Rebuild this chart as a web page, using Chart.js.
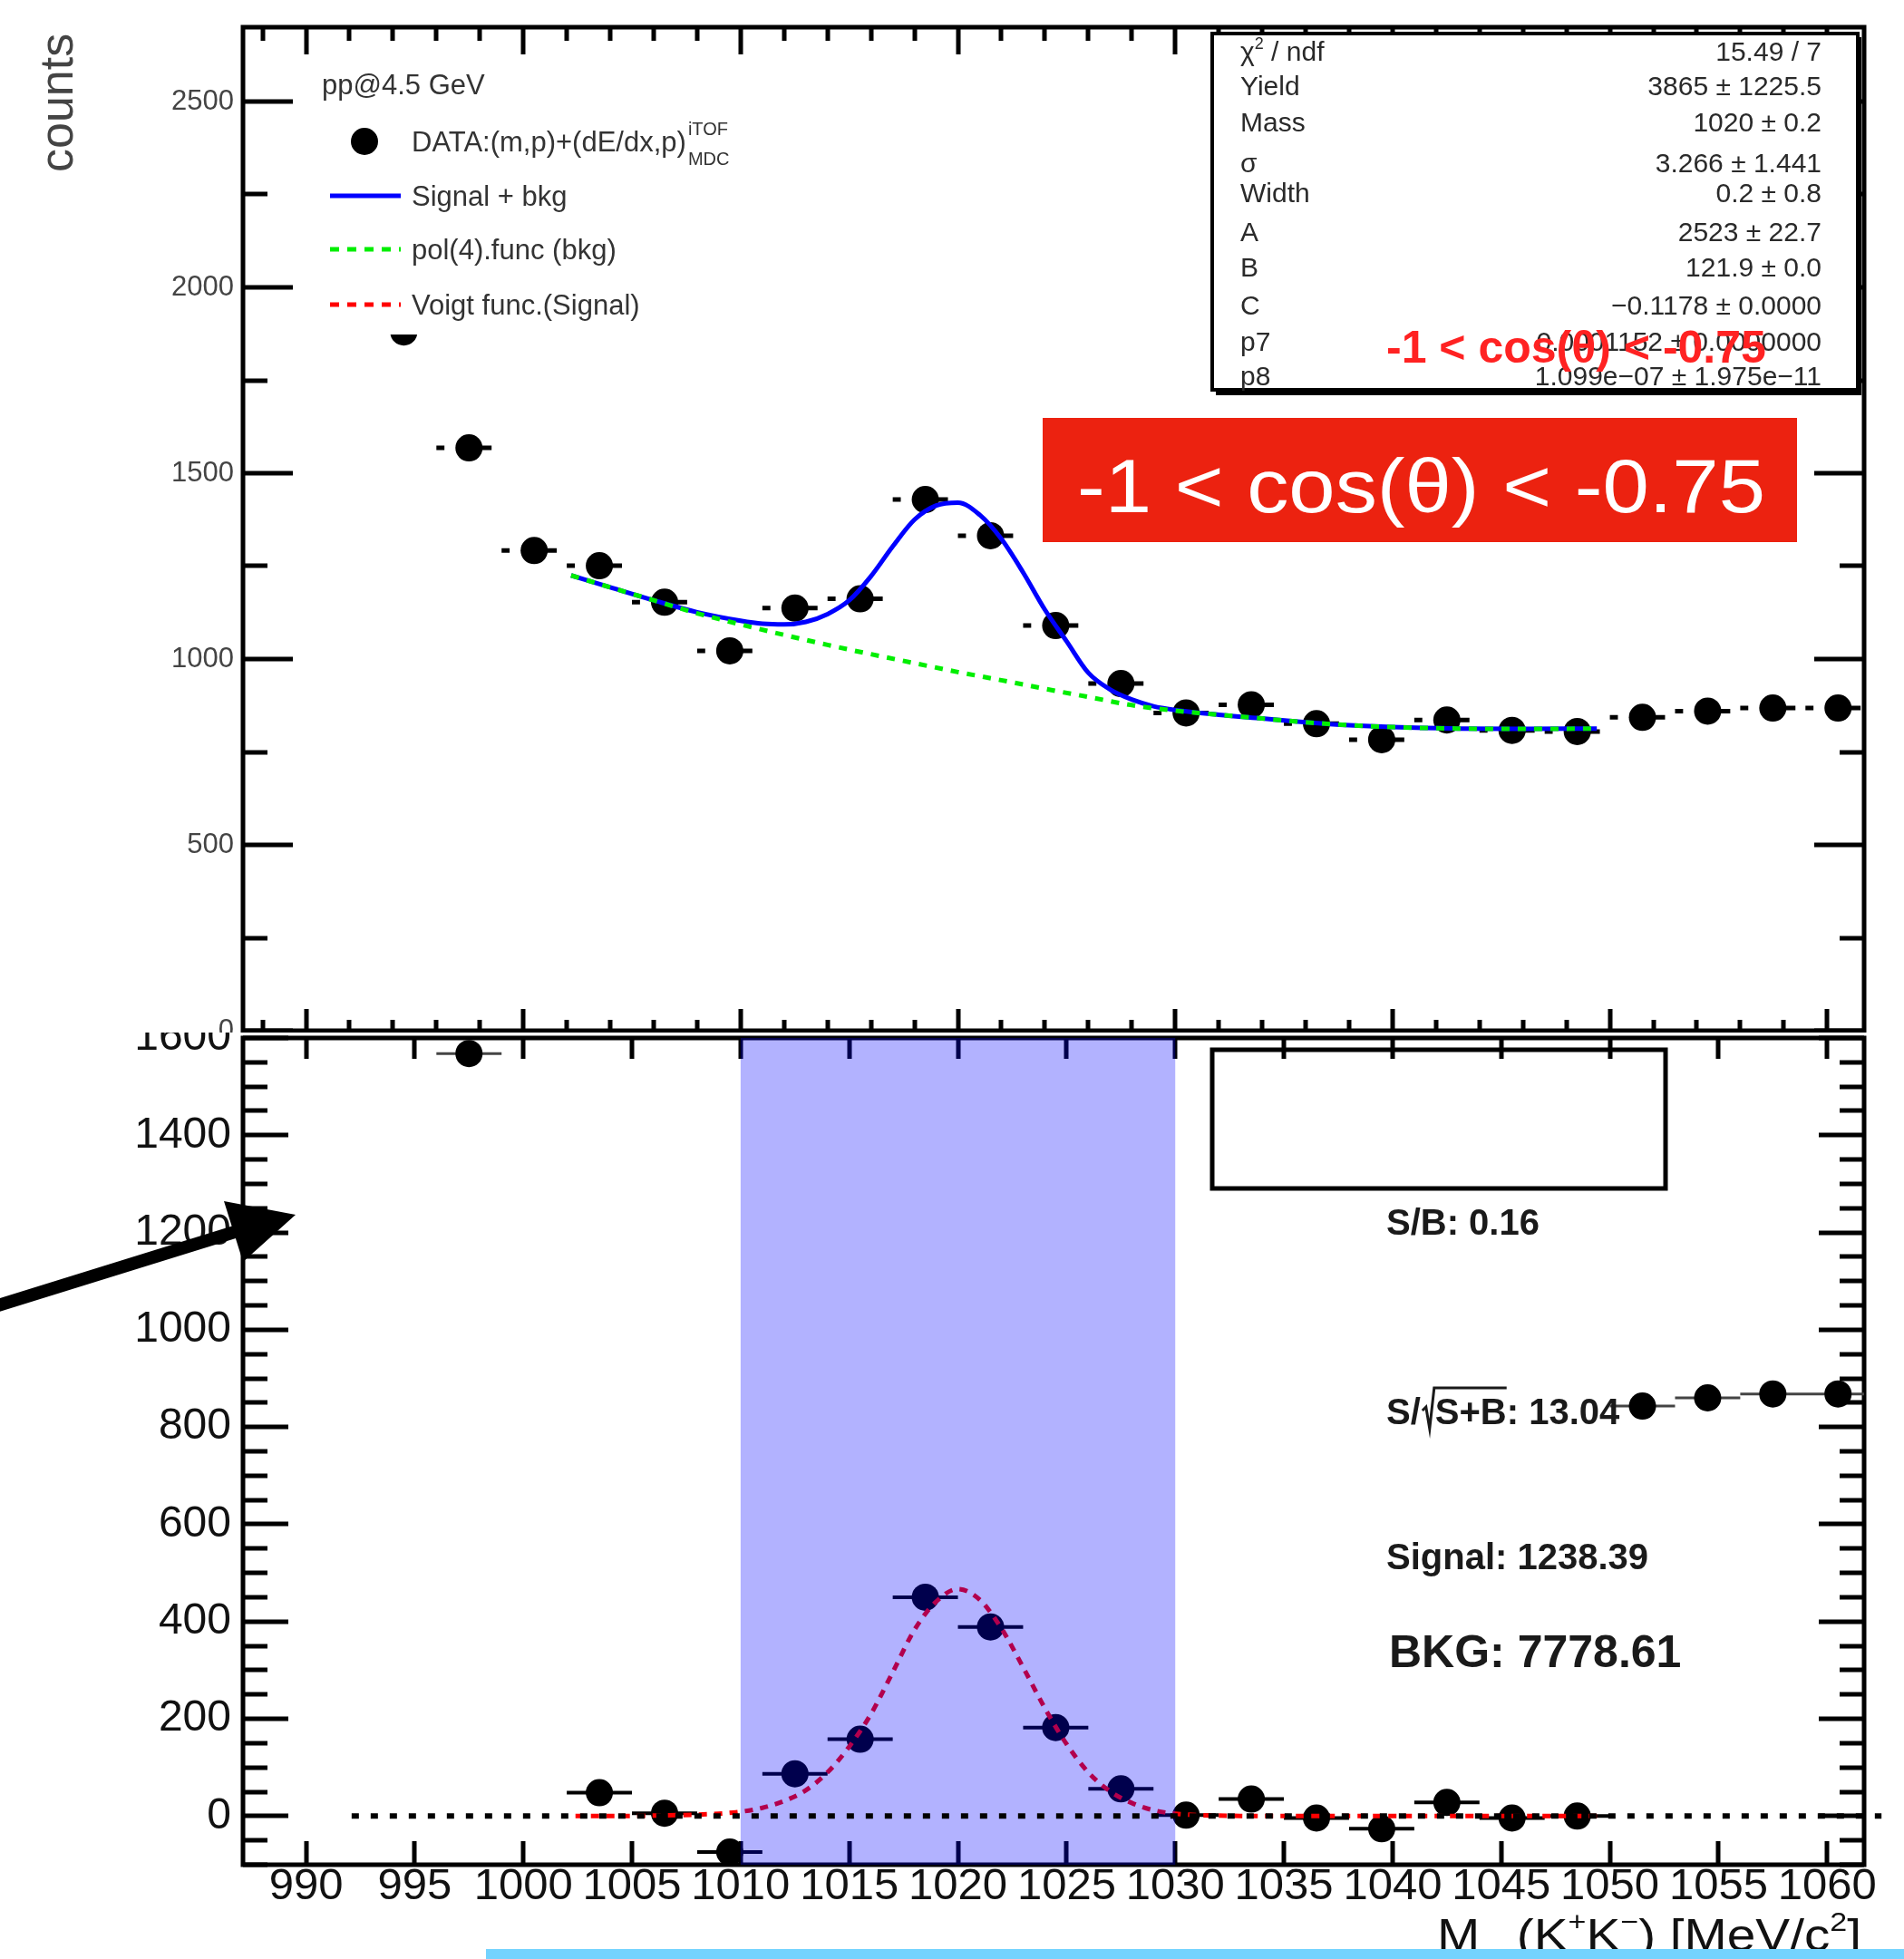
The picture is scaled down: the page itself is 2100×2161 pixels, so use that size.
<!DOCTYPE html>
<html>
<head>
<meta charset="utf-8">
<title>K+K- invariant mass</title>
<script src="https://cdn.jsdelivr.net/npm/chart.js@4.4.1/dist/chart.umd.min.js"></script>
<style>
  html, body { margin: 0; padding: 0; background: #fff; }
  body { position: relative; width: 2100px; height: 2161px; overflow: hidden; }
  #lowerPad { position: absolute; left: 0; top: 1090px; }
  #upperPad { position: absolute; left: 0; top: 0; background: #fff; }
  #strip { position: absolute; left: 536px; top: 2150px; width: 1564px; height: 11px; background: #74d3fe; }
</style>
</head>
<body>
<canvas id="lowerPad" width="2100" height="1071"></canvas>
<canvas id="upperPad" width="2100" height="1139"></canvas>
<div id="strip"></div>
<script>
const FONT = '"Liberation Sans", Arial, Helvetica, sans-serif';

// 3 MeV/c2 bins and raw K+K- pair counts
const massBins = [994.5, 997.5, 1000.5, 1003.5, 1006.5, 1009.5, 1012.5, 1015.5, 1018.5, 1021.5, 1024.5, 1027.5,
                  1030.5, 1033.5, 1036.5, 1039.5, 1042.5, 1045.5, 1048.5, 1051.5, 1054.5, 1057.5, 1060.5];
const counts = [1880, 1568, 1292, 1251, 1153, 1022, 1137, 1162, 1429, 1332, 1090, 934,
                855, 877, 826, 783, 836, 808, 805, 843, 860, 868, 868];

// background-subtracted counts inside the fit range
const fitBins = [1003.5, 1006.5, 1009.5, 1012.5, 1015.5, 1018.5, 1021.5, 1024.5,
                 1027.5, 1030.5, 1033.5, 1036.5, 1039.5, 1042.5, 1045.5, 1048.5];
const signalCounts = [48, 6, -74, 87, 158, 450, 389, 182, 56, 2, 35, -4, -26, 28, -4, 0];

// side-band bins that also show up on the lower pad
const lowerRawBins = [997.5, 1051.5, 1054.5, 1057.5, 1060.5];

// signal + bkg fit, sampled along the mass axis
const sigBkgMass = [1002.2, 1004, 1006, 1008, 1010, 1011, 1012, 1013, 1014, 1015, 1016, 1017, 1018, 1019, 1020,
                    1021, 1022, 1023, 1024, 1025, 1026, 1027, 1028, 1029, 1030, 1032, 1034, 1036, 1038, 1040,
                    1043, 1046, 1049.4];
const sigBkg = [1225, 1193, 1158, 1126, 1103, 1095, 1093, 1100, 1121, 1158, 1223, 1303, 1375, 1413, 1421,
                1388, 1323, 1233, 1133, 1048, 963, 918, 891, 873, 863, 850, 840, 830, 822, 817,
                813, 812, 813];

// pol(4) background
const bkgMass = [1002.2, 1004, 1006, 1008, 1010, 1012, 1014, 1016, 1018, 1020, 1022, 1024, 1026, 1028,
                 1030, 1032, 1034, 1036, 1038, 1040, 1043, 1046, 1049.4];
const bkg = [1225, 1193, 1158, 1123, 1093, 1065, 1038, 1013, 989, 965, 943, 920, 898, 876,
             861, 850, 840, 830, 822, 817, 813, 812, 813];

// Voigt signal
const voigtMass = [1002.4, 1004, 1006, 1008, 1009, 1010, 1011, 1012, 1013, 1014, 1015, 1016, 1017, 1018,
                   1019, 1020, 1021, 1022, 1023, 1024, 1025, 1026, 1027, 1028, 1029, 1030, 1031, 1032,
                   1034, 1040, 1049.4];
const voigt = [0, 0, 1, 3, 5, 9, 17, 31, 53, 90, 143, 210, 296, 383,
               441, 467, 445, 386, 306, 222, 148, 90, 51, 27, 12, 5, 2, 1,
               0, 0, 0];

// integration window and zero reference
const windowLo = 1010, windowHi = 1030;
const zeroMass = [992.1, 1062.5];
const zeroLevel = [0, 0];

// tick labels
const upperYTicks = [0, 500, 1000, 1500, 2000, 2500];
const lowerYTicks = [0, 200, 400, 600, 800, 1000, 1200, 1400, 1600];
const lowerXTicks = [990, 995, 1000, 1005, 1010, 1015, 1020, 1025, 1030, 1035, 1040, 1045, 1050, 1055, 1060];

// fit result table
const statNames = ['χ2 / ndf', 'Yield', 'Mass', 'σ', 'Width', 'A', 'B', 'C', 'p7', 'p8'];
const statValues = ['15.49 / 7', '3865 ± 1225.5', '1020 ± 0.2', '3.266 ± 1.441', '0.2 ± 0.8', '2523 ± 22.7',
                    '121.9 ± 0.0', '−0.1178 ± 0.0000', '0.0001152 ± 0.0000000', '1.099e−07 ± 1.975e−11'];

const X_MIN = 987.1, X_MAX = 1061.7;

const pts = (xs, ys) => xs.map((m, i) => ({x: m, y: ys[i]}));

function eachStep(min, max, step, fn) {
  for (let k = Math.ceil(min / step - 1e-9); k * step <= max + 1e-9; k++) fn(k * step);
}
const isMultiple = (v, s) => Math.abs(Math.round(v / s) * s - v) < 1e-6;

// frame with inward ticks on all four sides
function drawFrame(chart, f) {
  const {ctx, chartArea: a, scales: {x, y}} = chart;
  ctx.save();
  ctx.strokeStyle = '#000';
  ctx.lineWidth = f.tickWidth;
  ctx.beginPath();
  eachStep(y.min, y.max, f.yMinor, v => {
    const p = Math.round(y.getPixelForValue(v));
    const len = isMultiple(v, f.yMajor) ? f.yMajorLen : f.yMinorLen;
    ctx.moveTo(a.left, p); ctx.lineTo(a.left + len, p);
    ctx.moveTo(a.right, p); ctx.lineTo(a.right - len, p);
  });
  eachStep(x.min, x.max, f.xMinor, v => {
    const p = Math.round(x.getPixelForValue(v));
    const major = isMultiple(v, f.xMajor);
    ctx.moveTo(p, a.bottom); ctx.lineTo(p, a.bottom - (major ? f.xMajorLen : f.xMinorLen));
    ctx.moveTo(p, a.top); ctx.lineTo(p, a.top + (major ? f.xTopMajorLen : f.xTopMinorLen));
  });
  ctx.stroke();
  ctx.lineWidth = f.frameWidth;
  ctx.strokeRect(a.left, a.top, a.right - a.left, a.bottom - a.top);
  ctx.restore();
}

// text made of pieces: [text, size, dy, weight]
function richText(ctx, parts, x, y, align) {
  let w = 0;
  parts.forEach(p => { ctx.font = `${p[3] || 'normal'} ${p[1]}px ${FONT}`; w += ctx.measureText(p[0]).width; });
  let cx = align === 'right' ? x - w : x;
  ctx.textAlign = 'left';
  ctx.textBaseline = 'alphabetic';
  parts.forEach(p => {
    ctx.font = `${p[3] || 'normal'} ${p[1]}px ${FONT}`;
    ctx.fillText(p[0], cx, y + p[2]);
    cx += ctx.measureText(p[0]).width;
  });
  return w;
}

// horizontal bin-width error bars
const errorBars = {
  id: 'errorBars',
  beforeDatasetsDraw(chart) {
    const {ctx, chartArea: a, scales: {x, y}} = chart;
    chart.data.datasets.forEach(ds => {
      if (!ds.xErr) return;
      ctx.save();
      ctx.beginPath();
      ctx.rect(a.left, a.top, a.right - a.left, a.bottom - a.top);
      ctx.clip();
      ctx.strokeStyle = ds.errColor || '#000';
      ctx.lineWidth = ds.errWidth || 4;
      ctx.beginPath();
      ds.data.forEach(p => {
        const py = y.getPixelForValue(p.y);
        const seg = (l, r) => { ctx.moveTo(x.getPixelForValue(p.x + l), py); ctx.lineTo(x.getPixelForValue(p.x + r), py); };
        if (ds.errGap) { seg(-ds.xErr, -1.13); seg(0.42, 1.04); }
        else seg(-ds.xErr, ds.xErr);
      });
      ctx.stroke();
      ctx.restore();
    });
  }
};

const upperFrame = {tickWidth: 5, frameWidth: 5, yMajor: 500, yMinor: 250, yMajorLen: 55, yMinorLen: 27,
                    xMajor: 10, xMinor: 2, xMajorLen: 24, xMinorLen: 12, xTopMajorLen: 30, xTopMinorLen: 15};
const lowerFrame = {tickWidth: 5, frameWidth: 5, yMajor: 200, yMinor: 50, yMajorLen: 50, yMinorLen: 27,
                    xMajor: 5, xMinor: 5, xMajorLen: 26, xMinorLen: 26, xTopMajorLen: 23, xTopMinorLen: 23};

const upperDecor = {
  id: 'upperDecor',
  afterDatasetsDraw(chart) { drawFrame(chart, upperFrame); },
  afterDraw(chart) {
    const ctx = chart.ctx;
    ctx.save();

    // y title
    ctx.save();
    ctx.translate(80, 190);
    ctx.rotate(-Math.PI / 2);
    ctx.font = `52px ${FONT}`;
    ctx.fillStyle = '#444';
    ctx.textAlign = 'left';
    ctx.fillText('counts', 0, 0);
    ctx.restore();

    // legend
    ctx.fillStyle = '#fff';
    ctx.fillRect(340, 66, 500, 303);
    ctx.fillStyle = '#333';
    richText(ctx, [['pp@4.5 GeV', 31, 0]], 355, 104);
    ctx.fillStyle = '#000';
    ctx.beginPath(); ctx.arc(402, 156, 15, 0, Math.PI * 2); ctx.fill();
    ctx.fillStyle = '#333';
    const w = richText(ctx, [['DATA:(m,p)+(dE/dx,p)', 31, 0]], 454, 167);
    richText(ctx, [['iTOF', 20, 0]], 456 + w, 149);
    richText(ctx, [['MDC', 20, 0]], 456 + w, 182);
    ctx.lineWidth = 5;
    ctx.strokeStyle = '#0000ff';
    ctx.beginPath(); ctx.moveTo(364, 216); ctx.lineTo(442, 216); ctx.stroke();
    ctx.setLineDash([10, 9]);
    ctx.strokeStyle = '#00ee00';
    ctx.beginPath(); ctx.moveTo(364, 275); ctx.lineTo(442, 275); ctx.stroke();
    ctx.strokeStyle = '#ff0000';
    ctx.beginPath(); ctx.moveTo(364, 336); ctx.lineTo(442, 336); ctx.stroke();
    ctx.setLineDash([]);
    richText(ctx, [['Signal + bkg', 31, 0]], 454, 227);
    richText(ctx, [['pol(4).func (bkg)', 31, 0]], 454, 286);
    richText(ctx, [['Voigt func.(Signal)', 31, 0]], 454, 347);

    // fit statistics box
    ctx.fillStyle = '#000';
    ctx.fillRect(1341, 41, 712, 395);
    ctx.fillStyle = '#fff';
    ctx.fillRect(1337, 37, 712, 393);
    ctx.strokeStyle = '#000';
    ctx.lineWidth = 4;
    ctx.strokeRect(1337, 37, 712, 393);
    const rowY = [67, 105, 145, 190, 223, 266, 305, 347, 387, 425];
    ctx.fillStyle = '#2a2a2a';
    statNames.forEach((n, i) => {
      if (i === 0) richText(ctx, [['χ', 30, 0], ['2', 18, -13], [' / ndf', 30, 0]], 1368, rowY[i]);
      else richText(ctx, [[n, 30, 0]], 1368, rowY[i]);
      richText(ctx, [[statValues[i], 30, 0]], 2009, rowY[i], 'right');
    });
    ctx.fillStyle = '#ff2222';
    richText(ctx, [['-1 < cos(θ) < -0.75', 50, 0, 'bold']], 1529, 400);

    // angular bin tag
    ctx.fillStyle = '#ec2210';
    ctx.fillRect(1150, 461, 832, 137);
    ctx.fillStyle = '#fff';
    ctx.font = `84px ${FONT}`;
    ctx.textAlign = 'left';
    ctx.textBaseline = 'alphabetic';
    const tag = '-1 < cos(θ) < -0.75';
    const tw = ctx.measureText(tag).width;
    ctx.translate(1188, 565);
    ctx.scale(759 / tw, 1);
    ctx.fillText(tag, 0, 0);
    ctx.restore();
  }
};

const lowerDecor = {
  id: 'lowerDecor',
  beforeDatasetsDraw(chart) { drawFrame(chart, lowerFrame); },
  beforeDatasetDraw(chart, args) {
    // the zero line (dataset 0) is drawn last, on top of the window
    if (args.index !== 0) return;
    const {ctx, chartArea: a, scales: {x}} = chart;
    const l = x.getPixelForValue(windowLo), r = x.getPixelForValue(windowHi);
    ctx.save();
    ctx.fillStyle = 'rgba(0, 0, 255, 0.3)';
    ctx.fillRect(l, a.top, r - l, a.bottom - a.top);
    ctx.restore();
  },
  afterDraw(chart) {
    const ctx = chart.ctx;
    const oy = -1090;
    ctx.save();
    ctx.strokeStyle = '#000';
    ctx.lineWidth = 5;
    ctx.strokeRect(1337, 1158 + oy, 500, 153);

    ctx.fillStyle = '#1a1a1a';
    richText(ctx, [['S/B: 0.16', 40, 0, 'bold']], 1529, 1362 + oy);
    // S/sqrt(S+B)
    const w1 = richText(ctx, [['S/', 40, 0, 'bold']], 1529, 1571 + oy);
    const rx = 1529 + w1 + 2;
    const w2 = richText(ctx, [['S+B', 40, 0, 'bold']], rx + 14, 1571 + oy);
    ctx.lineWidth = 3;
    ctx.strokeStyle = '#1a1a1a';
    ctx.beginPath();
    ctx.moveTo(rx, 1556 + oy); ctx.lineTo(rx + 4, 1552 + oy); ctx.lineTo(rx + 8, 1576 + oy);
    ctx.lineTo(rx + 13, 1531 + oy); ctx.lineTo(rx + 14 + w2, 1531 + oy);
    ctx.stroke();
    richText(ctx, [[': 13.04', 40, 0, 'bold']], rx + 14 + w2, 1571 + oy);
    richText(ctx, [['Signal: 1238.39', 40, 0, 'bold']], 1529, 1731 + oy);
    richText(ctx, [['BKG: 7778.61', 50, 0, 'bold']], 1532, 1839 + oy);

    // x title, stretched to its box
    ctx.fillStyle = '#111';
    const title = [['M', 50, 0], ['inv', 28, 24], ['(K', 50, 0], ['+', 30, -22], ['K', 50, 0], ['−', 30, -22],
                   [') [MeV/c', 50, 0], ['2', 30, -22], [']', 50, 0]];
    let tw = 0;
    title.forEach(p => { ctx.font = `${p[1]}px ${FONT}`; tw += ctx.measureText(p[0]).width; });
    ctx.save();
    ctx.translate(1585, 2152 + oy);
    ctx.scale(468 / tw, 1);
    richText(ctx, title, 0, 0);
    ctx.restore();

    // pointer arrow
    ctx.strokeStyle = '#000';
    ctx.fillStyle = '#000';
    ctx.lineWidth = 14;
    ctx.beginPath(); ctx.moveTo(-5, 1441 + oy); ctx.lineTo(262, 1358 + oy); ctx.stroke();
    ctx.beginPath();
    ctx.moveTo(326, 1340 + oy); ctx.lineTo(247, 1325 + oy); ctx.lineTo(268, 1392 + oy);
    ctx.closePath(); ctx.fill();
    ctx.restore();
  }
};

const baseOptions = (padding) => ({
  responsive: false,
  animation: false,
  events: [],
  layout: {padding, autoPadding: false},
  plugins: {legend: {display: false}, tooltip: {enabled: false}}
});

// upper pad: raw spectrum with fit
new Chart(document.getElementById('upperPad'), {
  type: 'scatter',
  data: {
    datasets: [
      {type: 'line', data: pts(bkgMass, bkg), borderColor: '#00ee00', borderWidth: 5, borderDash: [9, 9],
       pointRadius: 0, cubicInterpolationMode: 'monotone', fill: false},
      {type: 'line', data: pts(sigBkgMass, sigBkg), borderColor: '#0000ff', borderWidth: 5,
       pointRadius: 0, cubicInterpolationMode: 'monotone', fill: false},
      {data: pts(massBins, counts), pointRadius: 15, backgroundColor: '#000', borderWidth: 0,
       xErr: 1.5, errGap: true, errWidth: 5}
    ]
  },
  options: Object.assign(baseOptions({left: 0, right: 44, top: 30, bottom: 2}), {
    scales: {
      x: {type: 'linear', min: X_MIN, max: X_MAX,
          ticks: {display: false}, grid: {display: false, drawTicks: false}, border: {display: false},
          afterFit(s) { s.height = 0; s.paddingLeft = 0; s.paddingRight = 0; }},
      y: {type: 'linear', min: 0, max: 2700,
          afterBuildTicks(s) { s.ticks = upperYTicks.map(v => ({value: v})); },
          ticks: {font: {family: FONT, size: 31, lineHeight: 0.1}, color: '#444', padding: 10,
                  callback: v => String(v)},
          grid: {display: false, drawTicks: false}, border: {display: false},
          afterFit(s) { s.width = 268; s.paddingTop = 0; s.paddingBottom = 0; }}
    }
  }),
  plugins: [errorBars, upperDecor]
});

// lower pad: background-subtracted spectrum
new Chart(document.getElementById('lowerPad'), {
  type: 'scatter',
  data: {
    datasets: [
      {type: 'line', data: pts(zeroMass, zeroLevel), borderColor: '#000', borderWidth: 6, borderDash: [8, 13],
       pointRadius: 0, clip: false, fill: false},
      {type: 'line', data: pts(voigtMass, voigt), borderColor: '#ff0000', borderWidth: 5, borderDash: [9, 8],
       pointRadius: 0, cubicInterpolationMode: 'monotone', fill: false},
      {data: pts(fitBins, signalCounts), pointRadius: 15, backgroundColor: '#000', borderWidth: 0,
       xErr: 1.5, errWidth: 4},
      {data: lowerRawBins.map(m => ({x: m, y: counts[massBins.indexOf(m)]})), pointRadius: 15,
       backgroundColor: '#000', borderWidth: 0, xErr: 1.5, errWidth: 3, errColor: '#444'}
    ]
  },
  options: Object.assign(baseOptions({left: 0, right: 44, top: 55, bottom: 0}), {
    scales: {
      x: {type: 'linear', min: X_MIN, max: X_MAX,
          afterBuildTicks(s) { s.ticks = lowerXTicks.map(v => ({value: v})); },
          ticks: {font: {family: FONT, size: 49, lineHeight: 1}, color: '#111', padding: 0,
                  maxRotation: 0, autoSkip: false, callback: v => String(v)},
          grid: {display: false, drawTicks: false}, border: {display: false},
          afterFit(s) { s.height = 104; s.paddingLeft = 0; s.paddingRight = 0; }},
      y: {type: 'linear', min: -100, max: 1600,
          afterBuildTicks(s) { s.ticks = lowerYTicks.map(v => ({value: v})); },
          ticks: {font: {family: FONT, size: 48}, color: '#111', padding: 13, callback: v => String(v)},
          grid: {display: false, drawTicks: false}, border: {display: false},
          afterFit(s) { s.width = 268; s.paddingTop = 0; s.paddingBottom = 0; }}
    }
  }),
  plugins: [lowerDecor, errorBars]
});
</script>
</body>
</html>
